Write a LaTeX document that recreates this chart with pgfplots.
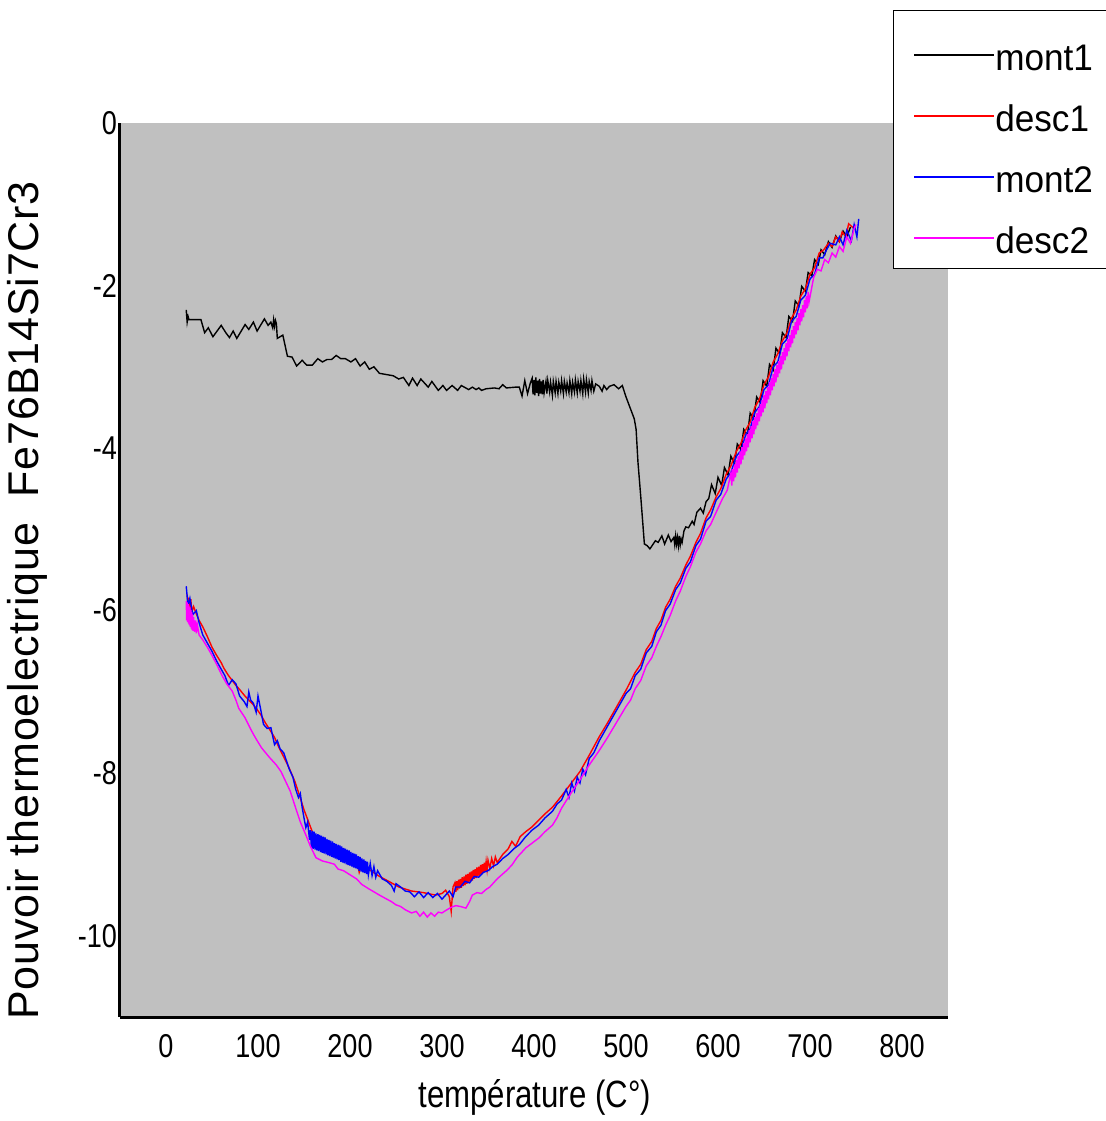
\documentclass[border=0pt]{standalone}
\usepackage{fontspec}
\setmainfont{Liberation Sans}
\newfontfamily\narrowfont{Liberation Sans}[FakeStretch=0.82]
\newfontfamily\legfont{Liberation Sans}[FakeStretch=0.95]
\newfontfamily\ylabfont{Liberation Sans}[LetterSpace=2.0]
\usepackage{pgfplots}
\usepackage{pgfplotstable}
\pgfplotsset{compat=1.18}
\definecolor{plotbg}{RGB}{192,192,192}
\definecolor{cred}{RGB}{255,0,0}
\definecolor{cblue}{RGB}{0,0,255}
\definecolor{cmag}{RGB}{255,0,255}

% mont1 (black)
\pgfplotstableread[row sep=\\]{
x y\\
22 -2.30\\ 23 -2.45\\ 24 -2.38\\ 25 -2.42\\ 38 -2.42\\ 42 -2.58\\ 46 -2.52\\ 51 -2.63\\
60 -2.49\\ 65 -2.58\\ 69 -2.64\\ 73 -2.56\\ 77 -2.65\\ 86 -2.48\\ 90 -2.54\\ 95 -2.45\\
99 -2.56\\ 107 -2.41\\ 111 -2.49\\ 114 -2.45\\ 116 -2.52\\ 117 -2.42\\ 118 -2.50\\ 119 -2.43\\
120 -2.47\\ 121 -2.65\\ 127 -2.61\\ 132 -2.87\\ 137 -2.88\\ 142 -2.99\\ 148 -2.92\\ 153 -2.98\\
159 -2.98\\ 165 -2.90\\ 170 -2.94\\ 175 -2.91\\ 180 -2.91\\ 185 -2.86\\ 190 -2.90\\ 195 -2.90\\
201 -2.94\\ 206 -2.90\\ 211 -2.99\\ 216 -2.94\\ 221 -3.03\\ 226 -3.00\\ 232 -3.08\\ 247 -3.11\\
253 -3.15\\ 258 -3.13\\ 264 -3.23\\ 268 -3.14\\ 273 -3.23\\ 277 -3.15\\ 285 -3.25\\ 289 -3.18\\
296 -3.29\\ 301 -3.23\\ 305 -3.29\\ 311 -3.23\\ 317 -3.29\\ 321 -3.23\\ 329 -3.28\\ 333 -3.25\\
337 -3.28\\ 340 -3.26\\ 343 -3.29\\ 348 -3.27\\ 357 -3.26\\ 362 -3.27\\ 366 -3.22\\ 370 -3.26\\
380 -3.25\\ 384 -3.25\\ 387 -3.36\\ 390 -3.17\\ 393 -3.33\\ 396 -3.20\\
398 -3.14\\ 399 -3.34\\ 400 -3.16\\ 401 -3.35\\ 402 -3.13\\ 403 -3.32\\ 404 -3.17\\ 405 -3.36\\
406 -3.15\\ 407 -3.33\\ 408 -3.18\\ 409 -3.34\\ 410 -3.16\\ 411 -3.32\\ 413 -3.18\\ 414 -3.33\\
415 -3.17\\ 417 -3.31\\ 418 -3.19\\ 420 -3.35\\ 421 -3.18\\ 423 -3.32\\ 424 -3.18\\ 426 -3.33\\
427 -3.19\\ 429 -3.30\\ 430 -3.17\\ 432 -3.33\\ 433 -3.18\\ 435 -3.31\\ 436 -3.20\\ 438 -3.32\\
439 -3.17\\ 441 -3.33\\ 442 -3.19\\ 444 -3.31\\ 445 -3.16\\ 447 -3.32\\ 448 -3.18\\ 450 -3.30\\
451 -3.17\\ 453 -3.33\\ 454 -3.15\\ 456 -3.31\\ 457 -3.16\\ 459 -3.32\\ 460 -3.18\\ 462 -3.29\\
463 -3.17\\ 465 -3.30\\ 467 -3.21\\
471 -3.24\\ 474 -3.30\\ 476 -3.23\\ 479 -3.28\\ 482 -3.24\\ 487 -3.22\\ 492 -3.27\\ 496 -3.23\\
500 -3.37\\ 505 -3.52\\ 509 -3.64\\ 511 -3.77\\ 513 -4.17\\ 516 -4.59\\ 520 -5.18\\ 523 -5.20\\
526 -5.24\\ 532 -5.14\\ 535 -5.16\\ 539 -5.08\\ 542 -5.18\\ 546 -5.07\\ 549 -5.15\\ 552 -5.10\\
553 -5.19\\ 554 -5.08\\ 555 -5.18\\ 556 -5.10\\ 557 -5.20\\ 558 -5.08\\ 559 -5.19\\ 560 -5.12\\
561 -5.16\\ 563 -5.02\\ 565 -4.97\\ 568 -4.98\\ 572 -4.90\\ 574 -4.94\\ 577 -4.79\\ 581 -4.74\\
584 -4.80\\ 587 -4.66\\ 590 -4.62\\ 593 -4.45\\ 597 -4.56\\ 600 -4.36\\ 604 -4.46\\ 607 -4.24\\
611 -4.33\\ 614 -4.10\\ 618 -4.19\\ 621 -3.95\\ 625 -4.02\\ 628 -3.77\\ 632 -3.84\\ 635 -3.57\\
639 -3.64\\ 642 -3.37\\ 646 -3.44\\ 649 -3.17\\ 653 -3.24\\ 656 -2.97\\ 660 -3.04\\ 663 -2.77\\
667 -2.84\\ 670 -2.58\\ 674 -2.64\\ 677 -2.38\\ 681 -2.44\\ 684 -2.19\\ 688 -2.25\\ 691 -2.01\\
695 -2.07\\ 698 -1.84\\ 702 -1.88\\ 705 -1.68\\ 709 -1.74\\ 712 -1.56\\ 716 -1.62\\ 720 -1.46\\
724 -1.53\\ 728 -1.39\\ 732 -1.46\\ 736 -1.33\\ 740 -1.40\\ 744 -1.28\\
}\montA

% desc1 (red)
\pgfplotstableread[row sep=\\]{
x y\\
23 -5.80\\ 24 -5.95\\ 25 -5.84\\ 26 -6.00\\ 27 -5.86\\ 28 -6.02\\ 30 -5.95\\ 33 -6.04\\
36 -6.12\\ 40 -6.20\\ 45 -6.32\\ 50 -6.45\\ 55 -6.55\\ 60 -6.64\\ 63 -6.71\\ 68 -6.80\\
72 -6.86\\ 76 -6.92\\ 80 -6.97\\ 85 -7.04\\ 90 -7.10\\ 95 -7.16\\ 98 -7.20\\ 103 -7.28\\
108 -7.38\\ 112 -7.45\\ 118 -7.56\\ 123 -7.69\\ 128 -7.80\\ 134 -7.94\\ 140 -8.10\\ 145 -8.27\\
150 -8.45\\ 155 -8.60\\ 160 -8.75\\ 170 -8.82\\ 180 -8.88\\ 190 -8.95\\ 200 -9.02\\ 207 -9.05\\
210 -9.22\\ 213 -9.10\\ 220 -9.18\\ 232 -9.27\\ 242 -9.33\\ 253 -9.40\\ 267 -9.45\\ 280 -9.47\\
293 -9.50\\ 300 -9.48\\ 304 -9.44\\ 308 -9.52\\ 310 -9.70\\ 312 -9.40\\
314 -9.35\\ 315 -9.46\\ 316 -9.33\\ 317 -9.44\\ 318 -9.31\\ 319 -9.42\\ 320 -9.30\\ 321 -9.41\\
322 -9.28\\ 323 -9.39\\ 324 -9.27\\ 325 -9.38\\ 326 -9.25\\ 327 -9.36\\ 328 -9.24\\ 329 -9.35\\
330 -9.22\\ 331 -9.33\\ 332 -9.21\\ 333 -9.32\\ 334 -9.19\\ 335 -9.30\\ 336 -9.18\\ 337 -9.29\\
338 -9.16\\ 339 -9.27\\ 340 -9.15\\ 341 -9.26\\ 342 -9.13\\ 343 -9.24\\ 344 -9.12\\ 345 -9.23\\
346 -9.10\\ 347 -9.21\\ 348 -9.09\\ 349 -9.19\\ 350 -9.07\\ 352 -9.17\\ 354 -9.05\\ 356 -9.14\\
358 -9.03\\ 360 -9.10\\
366 -9.00\\ 372 -8.93\\ 376 -8.84\\ 380 -8.90\\ 385 -8.78\\ 391 -8.72\\ 398 -8.66\\ 405 -8.58\\
412 -8.50\\ 420 -8.42\\ 430 -8.28\\ 440 -8.13\\ 450 -7.98\\ 460 -7.78\\ 471 -7.55\\ 480 -7.38\\
490 -7.18\\ 500 -6.98\\ 510 -6.76\\ 516 -6.66\\ 522 -6.48\\ 528 -6.38\\ 533 -6.22\\ 538 -6.12\\
543 -5.96\\ 548 -5.86\\ 554 -5.70\\ 559 -5.60\\ 565 -5.44\\ 570 -5.33\\ 576 -5.16\\ 581 -5.05\\
587 -4.86\\ 592 -4.76\\ 598 -4.60\\ 603 -4.50\\ 609 -4.32\\ 614 -4.22\\ 620 -4.04\\ 625 -3.94\\
630 -3.78\\ 635 -3.68\\ 640 -3.50\\ 645 -3.40\\ 650 -3.22\\ 655 -3.12\\ 660 -2.94\\ 665 -2.84\\
670 -2.68\\ 675 -2.58\\ 680 -2.40\\ 685 -2.30\\ 690 -2.13\\ 695 -2.04\\ 700 -1.86\\ 705 -1.78\\
710 -1.60\\ 715 -1.56\\ 720 -1.48\\ 724 -1.52\\ 728 -1.40\\ 732 -1.46\\ 735 -1.34\\ 739 -1.40\\
742 -1.24\\ 748 -1.30\\
}\descA

% mont2 (blue)
\pgfplotstableread[row sep=\\]{
x y\\
22 -5.70\\ 24 -5.95\\ 26 -5.85\\ 29 -6.05\\ 33 -6.00\\ 36 -6.15\\ 40 -6.30\\ 45 -6.40\\
50 -6.50\\ 55 -6.62\\ 60 -6.72\\ 64 -6.80\\ 68 -6.92\\ 72 -6.85\\ 76 -6.90\\ 80 -7.05\\
85 -7.12\\ 88 -7.18\\ 90 -7.00\\ 92 -7.10\\ 95 -7.14\\ 98 -7.25\\ 100 -7.05\\ 103 -7.22\\
106 -7.40\\ 110 -7.45\\ 114 -7.44\\ 118 -7.65\\ 121 -7.60\\ 124 -7.70\\ 128 -7.75\\ 131 -7.85\\
134 -7.95\\ 138 -8.05\\ 141 -8.20\\ 144 -8.30\\ 146 -8.25\\ 148 -8.42\\ 150 -8.55\\ 152 -8.67\\
154 -8.60\\ 156 -8.82\\
157 -8.70\\ 158 -8.92\\ 159 -8.71\\ 160 -8.93\\ 161 -8.72\\ 162 -8.94\\ 163 -8.74\\ 164 -8.95\\
165 -8.75\\ 166 -8.96\\ 167 -8.76\\ 168 -8.97\\ 169 -8.77\\ 170 -8.98\\ 171 -8.78\\ 172 -8.99\\
173 -8.79\\ 174 -9.00\\ 175 -8.81\\ 176 -9.01\\ 177 -8.82\\ 178 -9.02\\ 179 -8.83\\ 180 -9.03\\
181 -8.84\\ 182 -9.04\\ 183 -8.86\\ 184 -9.05\\ 185 -8.87\\ 186 -9.06\\ 187 -8.88\\ 188 -9.07\\
189 -8.89\\ 190 -9.09\\ 191 -8.90\\ 192 -9.10\\ 193 -8.92\\ 194 -9.11\\ 195 -8.93\\ 196 -9.12\\
197 -8.94\\ 198 -9.13\\ 199 -8.95\\ 200 -9.14\\ 201 -8.97\\ 202 -9.15\\ 203 -8.98\\ 204 -9.16\\
205 -8.99\\ 206 -9.17\\ 207 -9.00\\ 208 -9.18\\ 209 -9.02\\ 210 -9.20\\ 211 -9.03\\ 212 -9.21\\
213 -9.05\\ 214 -9.22\\ 215 -9.06\\ 216 -9.23\\ 217 -9.08\\ 218 -9.24\\ 219 -9.09\\ 220 -9.25\\
222 -9.11\\ 224 -9.26\\ 226 -9.15\\ 228 -9.28\\ 230 -9.20\\
235 -9.30\\ 240 -9.33\\ 245 -9.38\\ 248 -9.45\\ 250 -9.36\\ 255 -9.40\\ 260 -9.45\\ 265 -9.46\\
270 -9.52\\ 275 -9.46\\ 280 -9.53\\ 285 -9.47\\ 290 -9.53\\ 295 -9.48\\ 300 -9.55\\ 304 -9.50\\
308 -9.45\\ 312 -9.52\\ 315 -9.40\\ 320 -9.40\\ 325 -9.33\\ 330 -9.35\\ 335 -9.27\\ 340 -9.28\\
345 -9.22\\ 350 -9.20\\ 355 -9.15\\ 360 -9.12\\ 366 -9.05\\ 372 -9.00\\ 378 -8.93\\ 384 -8.88\\
391 -8.78\\ 398 -8.70\\ 405 -8.64\\ 412 -8.55\\ 420 -8.47\\ 425 -8.38\\ 430 -8.33\\ 435 -8.20\\
438 -8.30\\ 441 -8.12\\ 444 -8.22\\ 447 -8.05\\ 450 -8.12\\ 453 -7.95\\ 456 -8.02\\ 460 -7.82\\
465 -7.75\\ 471 -7.60\\ 480 -7.42\\ 490 -7.22\\ 500 -7.02\\ 505 -6.96\\ 510 -6.80\\ 516 -6.72\\
522 -6.52\\ 528 -6.44\\ 533 -6.26\\ 538 -6.18\\ 543 -6.00\\ 548 -5.92\\ 554 -5.74\\ 559 -5.66\\
565 -5.48\\ 570 -5.40\\ 576 -5.20\\ 581 -5.12\\ 587 -4.90\\ 592 -4.84\\ 598 -4.64\\ 603 -4.57\\
609 -4.38\\ 614 -4.30\\ 620 -4.10\\ 625 -4.03\\ 630 -3.84\\ 635 -3.76\\ 640 -3.56\\ 645 -3.49\\
650 -3.28\\ 655 -3.22\\ 660 -3.00\\ 665 -2.94\\ 670 -2.72\\ 675 -2.66\\ 680 -2.44\\ 685 -2.38\\
690 -2.18\\ 695 -2.12\\ 700 -1.92\\ 705 -1.86\\ 710 -1.66\\ 714 -1.66\\ 718 -1.56\\ 722 -1.48\\
728 -1.50\\ 732 -1.40\\ 736 -1.50\\ 740 -1.32\\ 745 -1.45\\ 748 -1.25\\ 751 -1.40\\ 753 -1.18\\
}\montB

% desc2 (magenta)
\pgfplotstableread[row sep=\\]{
x y\\
22 -5.88\\ 22.5 -6.12\\ 23 -5.90\\ 23.5 -6.14\\ 24 -5.92\\ 24.5 -6.16\\ 25 -5.94\\ 25.5 -6.18\\
26 -5.96\\ 26.5 -6.20\\ 27 -5.99\\ 27.5 -6.22\\ 28 -6.02\\ 28.5 -6.24\\ 29 -6.05\\ 29.5 -6.25\\
30 -6.08\\ 31 -6.26\\ 32 -6.12\\ 33 -6.28\\ 34 -6.17\\ 36 -6.30\\ 40 -6.36\\ 45 -6.45\\
50 -6.55\\ 55 -6.66\\ 61 -6.80\\ 66 -6.90\\ 72 -6.99\\ 76 -7.10\\ 79 -7.20\\ 86 -7.32\\
93 -7.48\\ 98 -7.58\\ 104 -7.69\\ 112 -7.80\\ 120 -7.90\\ 125 -7.98\\ 130 -8.10\\ 135 -8.22\\
141 -8.43\\ 146 -8.60\\ 152 -8.76\\ 157 -8.90\\ 163 -9.04\\ 170 -9.08\\ 177 -9.10\\ 183 -9.12\\
187 -9.18\\ 193 -9.20\\ 200 -9.25\\ 207 -9.30\\ 213 -9.37\\ 220 -9.42\\ 226 -9.46\\ 232 -9.50\\
240 -9.55\\ 245 -9.58\\ 250 -9.62\\ 255 -9.64\\ 260 -9.68\\ 267 -9.72\\ 272 -9.70\\ 276 -9.76\\
280 -9.71\\ 284 -9.77\\ 288 -9.72\\ 292 -9.76\\ 296 -9.71\\ 300 -9.72\\ 304 -9.69\\ 310 -9.65\\
315 -9.63\\ 320 -9.64\\ 326 -9.66\\ 330 -9.58\\ 333 -9.50\\ 338 -9.47\\ 343 -9.48\\ 348 -9.43\\
352 -9.40\\ 356 -9.35\\ 360 -9.30\\ 365 -9.25\\ 370 -9.20\\ 376 -9.13\\ 382 -9.03\\ 387 -8.97\\
391 -8.92\\ 398 -8.86\\ 405 -8.80\\ 412 -8.72\\ 420 -8.64\\ 425 -8.55\\ 430 -8.43\\ 440 -8.25\\
450 -8.08\\ 460 -7.90\\ 471 -7.72\\ 480 -7.56\\ 490 -7.37\\ 500 -7.18\\ 505 -7.10\\ 510 -6.96\\
516 -6.86\\ 522 -6.68\\ 528 -6.58\\ 533 -6.44\\ 538 -6.32\\ 543 -6.18\\ 548 -6.06\\ 554 -5.88\\
559 -5.76\\ 565 -5.58\\ 570 -5.46\\ 576 -5.28\\ 581 -5.18\\ 587 -5.02\\ 592 -4.94\\ 598 -4.79\\
605 -4.62\\ 610 -4.52\\
614 -4.31\\ 615 -4.46\\ 616 -4.26\\ 617 -4.41\\ 618 -4.20\\ 619 -4.36\\ 620 -4.15\\ 621 -4.30\\
622 -4.10\\ 623 -4.25\\ 624 -4.04\\ 625 -4.20\\ 626 -3.99\\ 627 -4.14\\ 628 -3.94\\ 629 -4.09\\
630 -3.88\\ 631 -4.04\\ 632 -3.83\\ 633 -3.99\\ 634 -3.78\\ 635 -3.93\\ 636 -3.73\\ 637 -3.88\\
638 -3.67\\ 639 -3.83\\ 640 -3.62\\ 641 -3.77\\ 642 -3.57\\ 643 -3.72\\ 644 -3.51\\ 645 -3.67\\
646 -3.46\\ 647 -3.61\\ 648 -3.41\\ 649 -3.56\\ 650 -3.35\\ 651 -3.51\\ 652 -3.30\\ 653 -3.45\\
654 -3.25\\ 655 -3.40\\ 656 -3.19\\ 657 -3.35\\ 658 -3.14\\ 659 -3.29\\ 660 -3.09\\ 661 -3.24\\
662 -3.03\\ 663 -3.19\\ 664 -2.98\\ 665 -3.13\\ 666 -2.93\\ 667 -3.08\\ 668 -2.87\\ 669 -3.03\\
670 -2.82\\ 671 -2.97\\ 672 -2.77\\ 673 -2.92\\ 674 -2.71\\ 675 -2.87\\ 676 -2.66\\ 677 -2.81\\
678 -2.61\\ 679 -2.76\\ 680 -2.55\\ 681 -2.71\\ 682 -2.50\\ 683 -2.65\\ 684 -2.45\\ 685 -2.60\\
686 -2.40\\ 687 -2.55\\ 688 -2.34\\ 689 -2.49\\ 690 -2.29\\ 691 -2.44\\ 692 -2.24\\ 693 -2.39\\
694 -2.18\\ 695 -2.33\\ 696 -2.13\\ 697 -2.28\\ 698 -2.08\\ 699 -2.20\\
704 -1.90\\ 708 -1.80\\ 712 -1.82\\ 716 -1.68\\ 720 -1.72\\ 724 -1.60\\ 728 -1.65\\ 732 -1.52\\
736 -1.58\\ 740 -1.40\\ 744 -1.48\\ 748 -1.30\\ 750 -1.25\\
}\descB

\begin{document}
\begin{tikzpicture}
% frame of the whole picture: 1 px of the reference = 0.5pt
\useasboundingbox (-60pt,-52pt) rectangle (492.5pt,508.5pt);
\begin{axis}[
  at={(0,0)}, anchor=south west,
  scale only axis,
  width=414pt, height=447pt,
  xmin=-50, xmax=850, ymin=-11, ymax=0,
  enlargelimits=false,
  axis x line*=bottom, axis y line*=left,
  axis line style={line width=1.5pt, black, -},
  axis background/.style={fill=plotbg},
  xtick={0,100,...,800}, ytick={-10,-8,...,0},
  major tick length=0pt,
  tick style={draw=none},
  /pgf/number format/assume math mode=true,
  ticklabel style={font=\narrowfont\fontsize{16.5}{18}\selectfont},
  xticklabel style={yshift=-5pt},
  yticklabel style={xshift=2pt},
  xlabel={température (C°)},
  xlabel style={font=\narrowfont\fontsize{19}{22}\selectfont,
    at={(axis description cs:0.501,-0.0895)}, anchor=center},
  ylabel={Pouvoir thermoelectrique\ \ Fe76B14Si7Cr3},
  ylabel style={font=\ylabfont\fontsize{21.5}{24}\selectfont,
    at={(axis description cs:-0.1123,0.466)}, anchor=center},
  legend style={
    at={(axis description cs:0.9336,1.1264)}, anchor=north west,
    draw=black, line width=0.5pt, fill=white,
    font=\legfont\fontsize{18.5}{18.5}\selectfont,
    inner xsep=10pt, inner ysep=2pt,
    nodes={inner sep=0pt, text height=28pt, text depth=5.5pt},
    row sep=-3pt,
    /tikz/every odd column/.append style={column sep=0pt},
  },
  legend cell align=left,
  legend image code/.code={\draw[#1, line width=0.9pt] (0pt,-3.5pt) -- (40pt,-3.5pt);},
  every axis plot/.append style={line width=0.7pt},
]
\addplot[black] table {\montA};
\addlegendentry{mont1}
\addplot[cred] table {\descA};
\addlegendentry{desc1}
\addplot[cblue] table {\montB};
\addlegendentry{mont2}
\addplot[cmag] table {\descB};
\addlegendentry{desc2}
\end{axis}
\end{tikzpicture}
\end{document}
